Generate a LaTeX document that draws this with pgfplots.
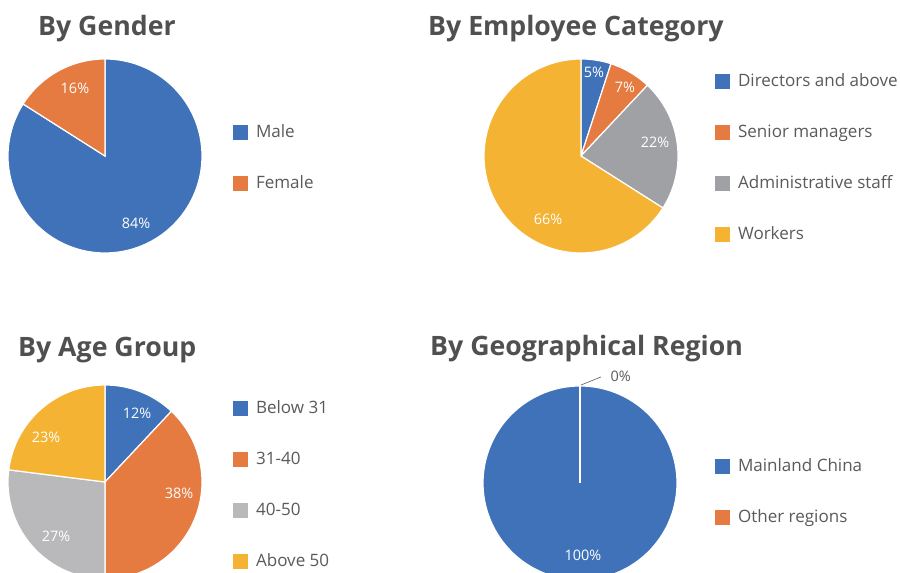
\documentclass[border=0pt]{standalone}
\usepackage{pgfplots}
\pgfplotsset{compat=1.18}
\usepackage{fontspec}
\setmainfont{Open Sans}
\definecolor{cblue}{HTML}{3F72B9}
\definecolor{corange}{HTML}{E67B42}
\definecolor{cgray}{HTML}{A0A1A5}
\definecolor{cgrayb}{HTML}{B9B9BB}
\definecolor{cyellow}{HTML}{F5B334}
\definecolor{ctitle}{HTML}{505050}
\definecolor{ctext}{HTML}{5A5A5A}
% slice: start percentage, value (percent), colour
\newcommand{\slice}[3]{%
  \addplot[fill=#3, draw=white, line width=1.2pt, domain={90-3.6*(#1+#2)}:{90-3.6*#1}, samples=120, variable=\t]
    ({cos(\t)},{sin(\t)}) -- (axis cs:0,0) -- cycle;}
\pgfplotsset{
  pie/.style={hide axis, scale only axis, width=194bp, height=194bp,
    xmin=-1, xmax=1, ymin=-1, ymax=1, anchor=center, clip=false,
    legend cell align=left,
    legend image code/.code={\fill[##1, draw=none] (0bp,-7.5bp) rectangle (15bp,7.5bp);},
    legend style={draw=none, fill=none, inner sep=0pt, outer sep=0pt, anchor=north west,
      font=\fontsize{17.1}{20}\selectfont, text=ctext, row sep=35bp, column sep=8bp,
      nodes={inner sep=0pt, text height=13bp, text depth=3bp}},
  },
}
\tikzset{lab/.style={text=white, font=\fontsize{14.5}{17}\selectfont, inner sep=0pt},
  ttl/.style={anchor=base west, text=ctitle, font=\fontsize{26.8}{30}\selectfont\bfseries, inner sep=0pt}}
\begin{document}
\begin{tikzpicture}[x=1bp, y=1bp]
\useasboundingbox (0,0) rectangle (900,573);
\fill[white] (0,0) rectangle (900,573);
\node[ttl] at (38,537) {By Gender};
\node[ttl] at (428,537) {By Employee Category};
\node[ttl] at (18,216) {By Age Group};
\node[ttl] at (430,217) {By Geographical Region};
% ---- By Gender
\begin{axis}[pie, at={(105bp,417bp)}, legend style={at={(1.160,0.662)}}]
\slice{0}{84}{cblue}\addlegendentry{Male}
\slice{84}{16}{corange}\addlegendentry{Female}
\node[lab] at (axis cs:-0.31,0.70) {16\%};
\node[lab] at (axis cs:0.32,-0.69) {84\%};
\end{axis}
% ---- By Employee Category
\begin{axis}[pie, at={(581bp,417bp)}, legend style={at={(1.191,0.927)}}]
\slice{0}{5}{cblue}\addlegendentry{Directors and above}
\slice{5}{7}{corange}\addlegendentry{Senior managers}
\slice{12}{22}{cgray}\addlegendentry{Administrative staff}
\slice{34}{66}{cyellow}\addlegendentry{Workers}
\node[lab] at (axis cs:0.134,0.866) {5\%};
\node[lab] at (axis cs:0.454,0.71) {7\%};
\node[lab] at (axis cs:0.763,0.144) {22\%};
\node[lab] at (axis cs:-0.34,-0.65) {66\%};
\end{axis}
% ---- By Age Group
\begin{axis}[pie, at={(105bp,91bp)}, legend style={at={(1.160,0.918)}}]
\slice{0}{12}{cblue}\addlegendentry{Below 31}
\slice{12}{38}{corange}\addlegendentry{31-40}
\slice{50}{27}{cgrayb}\addlegendentry{40-50}
\slice{77}{23}{cyellow}\addlegendentry{Above 50}
\node[lab] at (axis cs:0.33,0.71) {12\%};
\node[lab] at (axis cs:0.763,-0.113) {38\%};
\node[lab] at (axis cs:-0.505,-0.557) {27\%};
\node[lab] at (axis cs:-0.608,0.464) {23\%};
\end{axis}
% ---- By Geographical Region
\begin{axis}[pie, at={(580bp,90bp)}, legend style={at={(1.196,0.625)}}]
\slice{0}{100}{cblue}\addlegendentry{Mainland China}
% Other regions: 0 %, a slice of no area (only its white edge shows)
\addplot[fill=corange, draw=white, line width=1.2pt] coordinates {(0,0) (0,1)};
\addlegendentry{Other regions}
\draw[ctext, line width=0.6pt] (axis cs:0.01,1.01) -- (axis cs:0.216,1.093);
\node[lab, text=ctext] at (axis cs:0.42,1.10) {0\%};
\node[lab] at (axis cs:0.03,-0.75) {100\%};
\end{axis}
\end{tikzpicture}
\end{document}
